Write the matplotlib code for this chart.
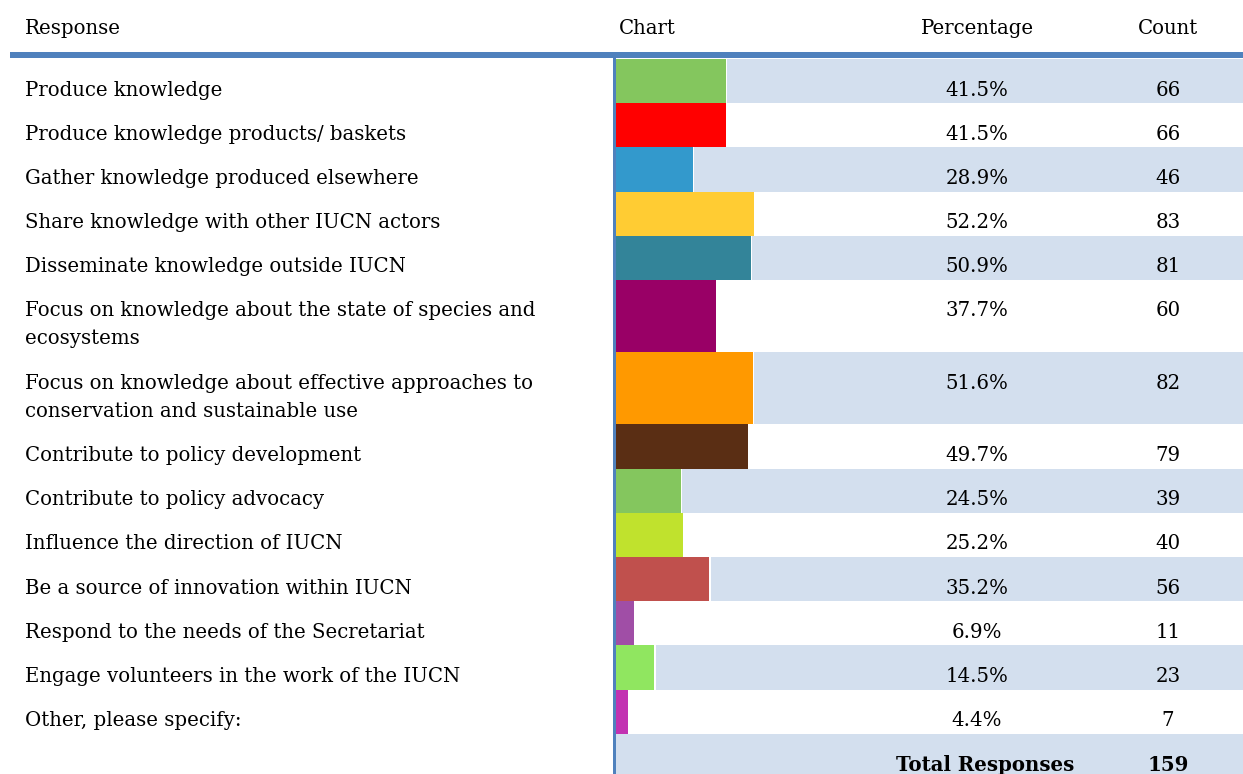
import matplotlib
matplotlib.use("Agg")
import matplotlib.pyplot as plt
from matplotlib.patches import Rectangle

# ---- data -------------------------------------------------------------
responses = [
    "Produce knowledge",
    "Produce knowledge products/ baskets",
    "Gather knowledge produced elsewhere",
    "Share knowledge with other IUCN actors",
    "Disseminate knowledge outside IUCN",
    "Focus on knowledge about the state of species and\necosystems",
    "Focus on knowledge about effective approaches to\nconservation and sustainable use",
    "Contribute to policy development",
    "Contribute to policy advocacy",
    "Influence the direction of IUCN",
    "Be a source of innovation within IUCN",
    "Respond to the needs of the Secretariat",
    "Engage volunteers in the work of the IUCN",
    "Other, please specify:",
]
percentages = [41.5, 41.5, 28.9, 52.2, 50.9, 37.7, 51.6, 49.7, 24.5, 25.2, 35.2, 6.9, 14.5, 4.4]
counts = [66, 66, 46, 83, 81, 60, 82, 79, 39, 40, 56, 11, 23, 7]
total_responses = 159
bar_colors = ["#84C65E", "#FF0000", "#3399CC", "#FFCC33", "#338499", "#990066",
              "#FF9900", "#5A2E14", "#84C65E", "#C0E22D", "#C0504D", "#A04EA6",
              "#90E660", "#C232B2"]
headers = ["Response", "Chart", "Percentage", "Count"]

# ---- layout (pixel units) --------------------------------------------
W, H = 1243, 774
DPI = 100
FONT = "DejaVu Serif"
FS = 14.2
BAND = "#D3DFEE"
RULE = "#4F81BD"

table_top = 59.0
row_h = 44.2
line_h = 28.0
chart_x0 = 616.0
px_per_pct = 2.65
pct_x = 977
count_x = 1168

fig = plt.figure(figsize=(W / DPI, H / DPI), dpi=DPI)

# bar axes: x in percent, sharing the pixel y-scale of the table
bx = fig.add_axes([chart_x0 / W, 0, (W - chart_x0) / W, 1])
xmax = (W - chart_x0) / px_per_pct
bx.set_xlim(0, xmax)
bx.set_ylim(H, 0)
bx.axis("off")
bx.set_zorder(1)
gap = 1.5 / px_per_pct

# text / rule layer on top, in pixel coordinates
ax = fig.add_axes([0, 0, 1, 1])
ax.set_xlim(0, W)
ax.set_ylim(H, 0)
ax.axis("off")
ax.set_zorder(2)
ax.patch.set_visible(False)

# row extents
tops, heights = [], []
y = table_top
for r in responses:
    n = r.count("\n") + 1
    h = row_h + line_h * (n - 1)
    tops.append(y)
    heights.append(h)
    y += h
total_top = y

for i, (pct, col) in enumerate(zip(percentages, bar_colors)):
    c = tops[i] + heights[i] / 2
    if i % 2 == 0:
        bx.barh(c, xmax - pct - gap, left=pct + gap, height=heights[i],
                color=BAND, linewidth=0)
    bx.barh(c, pct, left=0, height=heights[i], color=col, linewidth=0)

# total row band
bx.barh(total_top + (H - total_top) / 2 + 2, xmax, left=0,
        height=H - total_top + 4, color=BAND, linewidth=0)

# rules
ax.add_patch(Rectangle((10, 52), W - 10, 6, color=RULE, linewidth=0, zorder=3))
ax.add_patch(Rectangle((613, 58), 3, H - 58, color=RULE, linewidth=0, zorder=3))

# headers
hy = 28
ax.text(25, hy, headers[0], fontsize=FS, family=FONT, va="center", ha="left")
ax.text(619, hy, headers[1], fontsize=FS, family=FONT, va="center", ha="left")
ax.text(pct_x, hy, headers[2], fontsize=FS, family=FONT, va="center", ha="center")
ax.text(count_x, hy, headers[3], fontsize=FS, family=FONT, va="center", ha="center")

# row text
for i, r in enumerate(responses):
    ty = tops[i] + 31
    for k, line in enumerate(r.split("\n")):
        ax.text(25, ty + k * line_h, line, fontsize=FS, family=FONT,
                va="center", ha="left")
    ax.text(pct_x, ty, f"{percentages[i]:.1f}%", fontsize=FS, family=FONT,
            va="center", ha="center")
    ax.text(count_x, ty, f"{counts[i]}", fontsize=FS, family=FONT,
            va="center", ha="center")

ty = total_top + 31
ax.text(985, ty, "Total Responses", fontsize=FS, family=FONT,
        fontweight="bold", va="center", ha="center")
ax.text(count_x, ty, f"{total_responses}", fontsize=FS, family=FONT,
        fontweight="bold", va="center", ha="center")

fig.savefig("out.png", dpi=DPI)
